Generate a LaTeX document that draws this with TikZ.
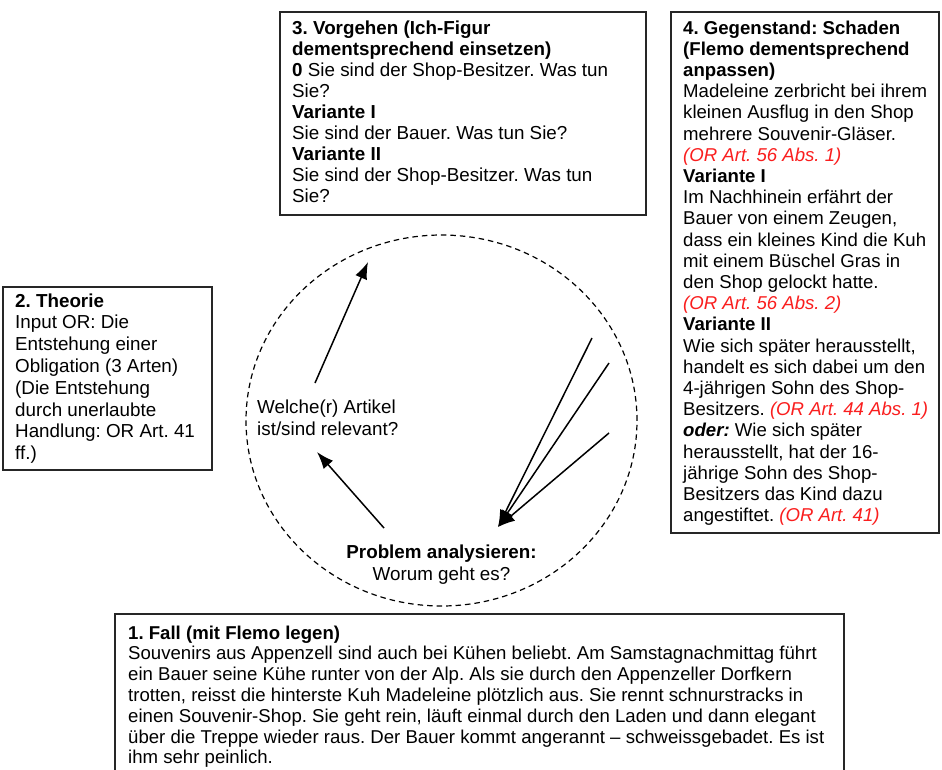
\documentclass[tikz,border=0pt]{standalone}
\usepackage{fontspec}
\setmainfont{Liberation Sans}
\usetikzlibrary{arrows.meta,shapes.geometric}
\definecolor{orred}{RGB}{250,30,30}
\frenchspacing
\newcommand\mytext[3]{\parbox[t]{420pt}{\fontsize{#1}{#2}\selectfont\raggedright #3}}
\newcommand\orref[1]{{\color{orred}\itshape #1}}
\begin{document}
\begin{tikzpicture}[x=1pt,y=-1pt,
  frame/.style={line width=1.2pt, draw=black!85},
  txt/.style={anchor=base west, inner sep=0pt},
  arr/.style={line width=1.5pt, -{Latex[length=17pt,width=12.5pt]}},
]
\useasboundingbox[fill=white] (0,0) rectangle (942,769);

% box 3
\draw[frame] (280,12) rectangle (646,215);
\node[txt] (t3) at (292,34.5) {\mytext{18.8}{21}{%
\textbf{3. Vorgehen (Ich-Figur}\\
\textbf{dementsprechend einsetzen)}\\
\textbf{0} Sie sind der Shop-Besitzer. Was tun\\
Sie?\\
\textbf{Variante I}\\
Sie sind der Bauer. Was tun Sie?\\
\textbf{Variante II}\\
Sie sind der Shop-Besitzer. Was tun\\
Sie?}};

% box 4
\draw[frame] (671,12) rectangle (939,533);
\node[txt] (t4) at (683,34) {\mytext{18.6}{21.2}{%
\textbf{4. Gegenstand: Schaden}\\
\textbf{(Flemo dementsprechend}\\
\textbf{anpassen)}\\
Madeleine zerbricht bei ihrem\\
kleinen Ausflug in den Shop\\
mehrere Souvenir-Gläser.\\
\orref{(OR Art. 56 Abs. 1)}\\
\textbf{Variante I}\\
Im Nachhinein erfährt der\\
Bauer von einem Zeugen,\\
dass ein kleines Kind die Kuh\\
mit einem Büschel Gras in\\
den Shop gelockt hatte.\\
\orref{(OR Art. 56 Abs. 2)}\\
\textbf{Variante II}\\
Wie sich später herausstellt,\\
handelt es sich dabei um den\\
4-jährigen Sohn des Shop-\\
Besitzers. \orref{(OR Art. 44 Abs. 1)}\\
\textbf{\itshape oder:} Wie sich später\\
herausstellt, hat der 16-\\
jährige Sohn des Shop-\\
Besitzers das Kind dazu\\
angestiftet. \orref{(OR Art. 41)}}};

% box 2
\draw[frame] (3,287) rectangle (212,470);
\node[txt] (t2) at (15,307) {\mytext{18.8}{21.8}{%
\textbf{2. Theorie}\\
Input OR: Die\\
Entstehung einer\\
Obligation (3 Arten)\\
(Die Entstehung\\
durch unerlaubte\\
Handlung: OR Art. 41\\
ff.)}};

% box 1 (open at the bottom)
\draw[frame] (115,775) -- (115,614) -- (844,614) -- (844,775);
\node[txt] (t1) at (128,639) {\parbox[t]{760pt}{\fontsize{18.6}{20.8}\selectfont\raggedright
\textbf{1. Fall (mit Flemo legen)}\\
Souvenirs aus Appenzell sind auch bei Kühen beliebt. Am Samstagnachmittag führt\\
ein Bauer seine Kühe runter von der Alp. Als sie durch den Appenzeller Dorfkern\\
trotten, reisst die hinterste Kuh Madeleine plötzlich aus. Sie rennt schnurstracks in\\
einen Souvenir-Shop. Sie geht rein, läuft einmal durch den Laden und dann elegant\\
über die Treppe wieder raus. Der Bauer kommt angerannt – schweissgebadet. Es ist\\
ihm sehr peinlich.}};

% cycle
\node[draw, dashed, dash pattern=on 5.5pt off 4pt, line width=1.2pt, ellipse,
  minimum width=391pt, minimum height=371pt, inner sep=0pt] (cyc) at (441.5,420.5) {};

\node[txt] (wa) at (257,413) {\mytext{18.8}{22}{Welche(r) Artikel\\ist/sind relevant?}};
\node[anchor=base, inner sep=0pt, align=center, font=\fontsize{18.8}{22}\selectfont] (pa) at (441.5,580)
  {\textbf{Problem analysieren:}\\Worum geht es?};

\coordinate (a1s) at (315,383);
\coordinate (a1e) at (368,262);
\coordinate (a2s) at (384,528);
\coordinate (a2e) at (317,452);
\coordinate (c1) at (592,338);
\coordinate (c2) at (609,363);
\coordinate (c3) at (609,433);
\coordinate (cj) at (498,527);
\draw[arr] (a1s) -- (a1e);
\draw[arr] (a2s) -- (a2e);
\draw[arr] (c1) -- (cj);
\draw[arr] (c2) -- (cj);
\draw[arr] (c3) -- (cj);
\end{tikzpicture}
\end{document}
